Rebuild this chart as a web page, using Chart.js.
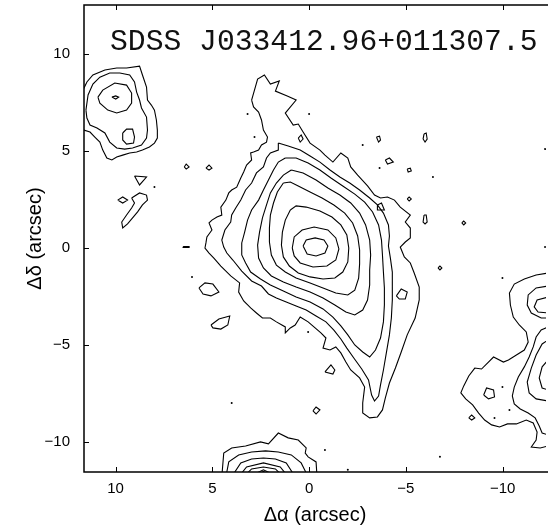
<!DOCTYPE html>
<html>
<head>
<meta charset="utf-8">
<script src="https://cdn.jsdelivr.net/npm/chart.js@4.4.1/dist/chart.umd.min.js"></script>
<style>
  html, body { margin: 0; padding: 0; background: #fff; }
  canvas { display: block; }
</style>
</head>
<body>
<canvas id="map" width="550" height="531"></canvas>
<script>
'use strict';

// object name and axis ticks (arcsec)
var objectName = 'SDSS J033412.96+011307.5';
var xTicks = [10, 5, 0, -5, -10];
var yTicks = [10, 5, 0, -5, -10];

// main galaxy, contours from the outside in: [dRA, dDec] in arcsec
var mainL1 = [[2.97,7.63],[2.66,8.71],[2.31,8.92],[2.00,8.45],[1.54,8.61],[1.74,8.09],[1.13,7.84],[0.67,7.63],[1.23,6.96],[0.82,6.34],
  [0.56,6.39],[0.31,5.98],[-0.05,5.41],[-0.56,5.05],[-0.82,4.79],[-1.23,4.43],[-1.64,4.90],[-2.00,4.64],[-2.15,4.18],[-2.51,3.76],
  [-3.02,3.20],[-3.38,2.73],[-3.69,2.58],[-4.05,2.63],[-4.41,2.47],[-4.71,2.11],[-5.23,1.70],[-4.97,1.34],[-5.23,1.03],[-5.23,0.52],
  [-4.97,0.31],[-4.71,0.05],[-4.92,-0.46],[-5.23,-0.77],[-5.43,-1.29],[-5.69,-2.01],[-5.69,-2.68],[-5.48,-3.61],[-5.07,-4.48],[-4.76,-5.36],
  [-4.46,-6.19],[-4.15,-6.96],[-3.94,-7.73],[-3.79,-8.35],[-3.53,-8.71],[-3.13,-8.76],[-2.77,-8.51],[-2.77,-7.99],[-2.87,-7.17],[-2.61,-6.70],
  [-2.15,-6.29],[-1.90,-5.88],[-1.64,-5.41],[-1.38,-5.10],[-1.08,-5.26],[-0.72,-5.16],[-0.87,-4.64],[-0.61,-4.38],[-0.31,-4.12],[0.05,-3.81],
  [0.46,-3.56],[0.72,-3.97],[0.97,-4.12],[1.23,-4.38],[1.23,-4.07],[1.69,-3.81],[2.00,-3.61],[2.41,-3.61],[2.72,-3.35],[3.02,-3.09],
  [3.38,-2.73],[3.64,-2.27],[3.59,-1.80],[4.05,-1.44],[4.56,-0.93],[4.92,-0.52],[5.17,-0.26],[5.38,0],[5.33,0.26],[5.28,0.57],
  [5.02,0.93],[5.17,1.29],[5.02,1.44],[4.76,1.60],[4.51,1.70],[4.56,2.11],[4.30,2.47],[4.15,2.84],[4.00,2.99],[3.74,3.14],
  [3.53,3.61],[3.38,3.92],[3.23,4.28],[2.97,4.54],[3.02,4.90],[2.87,4.95],[2.61,5.05],[2.46,5.31],[2.20,5.46],[2.15,5.72],
  [2.36,6.08],[2.46,6.60],[2.61,7.01],[2.87,7.27]];
var mainL2 = [[1.59,5.41],[1.59,5.05],[2.00,4.90],[2.20,4.64],[2.36,4.18],[2.72,3.87],[2.97,3.35],[3.28,2.99],[3.53,2.47],[3.79,2.06],
  [4.00,1.70],[4.05,1.34],[4.35,0.93],[4.51,0.41],[4.41,0.05],[4.25,-0.26],[3.94,-0.62],[3.48,-1.19],[2.97,-1.70],[2.46,-1.96],
  [2.10,-2.37],[1.69,-2.58],[1.18,-2.78],[0.67,-2.99],[0.15,-3.20],[-0.36,-3.51],[-0.87,-3.81],[-1.28,-4.23],[-1.64,-4.69],[-1.95,-5.16],
  [-2.31,-5.67],[-2.72,-6.24],[-3.07,-6.80],[-3.23,-7.58],[-3.38,-7.89],[-3.59,-7.63],[-3.69,-7.06],[-3.84,-6.29],[-4.00,-5.36],[-4.15,-4.48],
  [-4.25,-3.61],[-4.30,-2.68],[-4.30,-1.96],[-4.30,-1.24],[-4.20,-0.52],[-4.10,0.10],[-4.15,0.62],[-4.10,1.19],[-3.84,1.80],[-3.53,2.22],
  [-3.13,2.58],[-2.61,2.99],[-2.10,3.35],[-1.59,3.66],[-1.08,4.02],[-0.56,4.43],[-0.05,4.74],[0.46,5.05],[1.08,5.26]];
var mainL3 = [[1.23,4.64],[1.59,4.43],[1.84,4.02],[2.10,3.51],[2.36,2.99],[2.61,2.47],[2.97,1.96],[3.18,1.44],[3.33,0.82],[3.48,0.26],
  [3.48,-0.36],[3.28,-0.77],[3.02,-1.24],[2.51,-1.60],[2.00,-1.91],[1.33,-2.22],[0.67,-2.53],[-0.05,-2.78],[-0.72,-3.14],[-1.23,-3.56],
  [-1.64,-4.02],[-2.00,-4.48],[-2.36,-5.00],[-2.77,-5.36],[-3.13,-5.62],[-3.43,-5.26],[-3.69,-4.64],[-3.84,-3.81],[-3.89,-2.94],[-3.89,-2.06],
  [-3.84,-1.24],[-3.79,-0.36],[-3.74,0.41],[-3.59,1.19],[-3.28,1.86],[-2.87,2.37],[-2.36,2.78],[-1.74,3.20],[-1.13,3.61],[-0.56,4.02],
  [0.05,4.38],[0.67,4.64]];
var mainL4 = [[0.92,4.02],[1.33,3.76],[1.69,3.35],[2.00,2.84],[2.20,2.22],[2.41,1.55],[2.56,0.82],[2.66,0.15],[2.61,-0.52],[2.36,-1.03],
  [1.95,-1.44],[1.33,-1.75],[0.67,-2.01],[-0.05,-2.27],[-0.72,-2.58],[-1.33,-2.94],[-1.90,-3.30],[-2.36,-3.45],[-2.77,-3.20],[-3.02,-2.68],
  [-3.13,-1.91],[-3.13,-1.13],[-3.18,-0.36],[-3.13,0.41],[-2.92,1.19],[-2.61,1.80],[-2.15,2.32],[-1.59,2.73],[-0.97,3.09],[-0.36,3.51],
  [0.31,3.87]];
var mainL5 = [[1.33,3.35],[1.64,2.89],[1.84,2.32],[2.00,1.70],[2.05,1.03],[2.05,0.31],[1.95,-0.36],[1.69,-0.88],[1.23,-1.24],[0.67,-1.55],
  [-0.05,-1.80],[-0.72,-2.06],[-1.38,-2.32],[-2.00,-2.42],[-2.36,-2.17],[-2.56,-1.55],[-2.61,-0.82],[-2.61,-0.10],[-2.51,0.62],[-2.25,1.29],
  [-1.84,1.80],[-1.28,2.22],[-0.67,2.58],[-0.05,2.89],[0.56,3.20],[0.97,3.40]];
var mainL6 = [[0.97,1.96],[1.23,1.44],[1.38,0.82],[1.43,0.15],[1.33,-0.46],[1.02,-0.93],[0.56,-1.29],[-0.05,-1.49],[-0.72,-1.60],[-1.33,-1.55],
  [-1.74,-1.24],[-2.00,-0.72],[-2.05,0],[-1.95,0.67],[-1.64,1.19],[-1.18,1.60],[-0.56,1.91],[0.15,2.11],[0.67,2.17]];
var mainL7 = [[0.87,0],[0.77,0.57],[0.36,0.93],[-0.26,1.08],[-0.97,0.93],[-1.38,0.52],[-1.54,-0.05],[-1.38,-0.62],[-0.92,-0.93],[-0.20,-0.98],
  [0.46,-0.77],[0.77,-0.41]];
var mainL8 = [[0.31,0.10],[0.15,0.41],[-0.31,0.52],[-0.77,0.41],[-0.97,0.10],[-0.82,-0.26],[-0.36,-0.41],[0.10,-0.31]];

// companion at the upper left (cut by the left frame)
var leftL1 = [[11.9,8.10],[11.63,8.25],[11.48,8.56],[11.17,8.92],[10.55,9.18],[9.94,9.28],[9.43,9.28],[8.76,9.38],[8.61,8.92],[8.40,8.30],[8.35,7.63],
  [8.15,7.37],[7.99,7.11],[7.89,6.60],[7.84,6.08],[7.84,5.67],[7.99,5.41],[8.25,5.21],[8.61,5.05],[8.91,4.95],[9.27,4.90],
  [9.63,4.79],[9.94,4.69],[10.19,4.54],[10.45,4.64],[10.66,5.05],[10.81,5.46],[11.07,5.72],[11.32,5.98],[11.63,6.08],[11.9,6.10]];
var leftL2 = [[11.53,7.11],[11.42,7.89],[11.17,8.45],[10.81,8.81],[10.30,9.02],[9.78,9.02],[9.27,8.92],[9.02,8.56],[8.91,8.04],[8.76,7.63],
  [8.66,7.22],[8.40,6.75],[8.35,6.08],[8.40,5.67],[8.66,5.31],[9.12,5.16],[9.53,5.10],[9.94,5.16],[10.30,5.46],[10.55,5.93],
  [10.96,6.19],[11.32,6.34],[11.48,6.70]];
var leftL3 = [[10.91,7.78],[10.66,8.14],[10.04,8.51],[9.43,8.40],[9.17,7.99],[9.17,7.47],[9.43,7.11],[9.94,6.96],[10.40,7.11],[10.81,7.47]];
var leftL4 = [[10.19,7.78],[9.99,7.84],[9.84,7.78],[9.99,7.68]];
var leftL5 = [[9.63,5.93],[9.43,6.13],[9.12,6.13],[9.02,5.72],[9.07,5.41],[9.43,5.36],[9.63,5.57]];

// source at the bottom (cut by the lower frame)
var lowL1 = [[4.51,-11.8],[4.41,-10.57],[4.00,-10.31],[3.28,-10.21],[2.51,-10.00],[2.10,-10.10],[1.59,-9.54],[1.08,-9.79],[0.56,-9.90],[0.15,-10.31],[0.20,-10.57],[0.05,-10.77],[-0.36,-11.03],[-0.41,-11.8]];
var lowL2 = [[4.30,-11.8],[4.15,-11.03],[3.64,-10.67],[2.97,-10.52],[2.25,-10.46],[1.59,-10.52],[0.92,-10.67],[0.41,-11.08],[0.05,-11.8]];
var lowL3 = [[4.00,-11.8],[3.53,-11.08],[2.97,-10.88],[2.36,-10.83],[1.74,-10.88],[1.18,-11.08],[0.72,-11.8]];
var lowL4 = [[3.64,-11.8],[3.23,-11.29],[2.36,-11.08],[1.49,-11.29],[1.08,-11.8]];
var lowL5 = [[3.38,-11.8],[2.97,-11.39],[2.36,-11.29],[1.74,-11.39],[1.33,-11.8]];
var lowL6 = [[3.13,-11.8],[2.36,-11.44],[1.59,-11.8]];
var lowL7 = [[2.82,-11.8],[2.36,-11.52],[1.90,-11.8]];

// source at the right edge (cut by the edge of the picture)
var rightL1 = [[-12.35,-1.29],[-11.73,-1.39],[-11.12,-1.60],[-10.60,-1.86],[-10.35,-2.32],[-10.40,-2.94],[-10.55,-3.56],[-10.86,-3.97],[-11.22,-4.33],[-11.32,-4.85],
  [-11.12,-5.26],[-10.71,-5.52],[-10.30,-5.77],[-10.04,-5.88],[-9.53,-5.62],[-8.91,-6.24],[-8.56,-6.19],[-8.25,-6.60],[-7.99,-7.11],[-7.84,-7.47],
  [-8.09,-7.78],[-8.45,-8.09],[-8.76,-8.51],[-9.07,-8.87],[-9.43,-9.12],[-9.84,-9.23],[-10.25,-9.07],[-10.71,-9.07],[-11.22,-8.87],[-11.58,-9.02],
  [-11.78,-9.49],[-11.73,-9.90],[-11.48,-10.26],[-11.94,-10.31],[-12.35,-10.21]];
var rightL2a = [[-12.35,-1.96],[-11.73,-2.06],[-11.32,-2.42],[-11.27,-2.94],[-11.48,-3.35],[-11.99,-3.61],[-12.35,-3.61]];
var rightL3a = [[-12.35,-2.53],[-11.78,-2.68],[-11.63,-3.04],[-11.83,-3.30],[-12.35,-3.35]];
var rightL2b = [[-12.35,-4.07],[-11.99,-4.23],[-11.73,-4.59],[-11.58,-5.10],[-11.37,-5.62],[-11.12,-6.13],[-10.81,-6.65],[-10.60,-7.17],[-10.50,-7.63],[-10.60,-8.04],
  [-10.91,-8.30],[-11.32,-8.51],[-11.68,-8.76],[-11.89,-9.18],[-12.04,-9.54],[-12.35,-9.64]];
var rightL3b = [[-12.35,-4.74],[-12.04,-4.95],[-11.73,-5.52],[-11.48,-6.19],[-11.27,-6.91],[-11.37,-7.47],[-11.73,-7.78],[-12.35,-7.89]];
var rightL4b = [[-12.35,-5.77],[-12.04,-6.13],[-11.89,-6.70],[-12.04,-7.22],[-12.35,-7.32]];

// small isolated contours
var smallLoops = [
  [[9.02,3.71],[8.40,3.66],[8.76,3.25]],
  [[9.89,2.47],[9.63,2.63],[9.38,2.47],[9.63,2.32]],
  [[9.17,2.58],[8.76,2.84],[8.40,2.73],[8.35,2.47],[8.61,2.22],[8.86,1.86],[9.12,1.55],[9.38,1.24],[9.63,1.03],[9.68,1.34],[9.43,1.70],[9.17,2.06],[9.02,2.32]],
  [[6.45,4.18],[6.35,4.33],[6.20,4.18],[6.35,4.07]],
  [[5.33,4.12],[5.17,4.28],[5.02,4.12],[5.17,4.02]],
  [[6.51,0.07],[6.20,0.07],[6.20,0.03],[6.51,0.03]],
  [[0.56,5.67],[0.41,5.83],[0.31,5.62],[0.46,5.46]],
  [[-3.48,5.72],[-3.64,5.77],[-3.69,5.57],[-3.59,5.46]],
  [[-5.94,5.88],[-6.05,5.93],[-6.10,5.62],[-5.99,5.46],[-5.89,5.62]],
  [[-3.94,4.54],[-4.15,4.64],[-4.35,4.43],[-4.05,4.33]],
  [[-5.07,4.07],[-5.23,4.12],[-5.28,3.97],[-5.12,3.92]],
  [[-5.07,2.53],[-5.17,2.63],[-5.28,2.53],[-5.17,2.42]],
  [[-3.53,2.22],[-3.74,2.32],[-3.89,1.96],[-3.53,1.96]],
  [[-5.94,1.70],[-6.05,1.70],[-6.10,1.34],[-5.99,1.24],[-5.89,1.34]],
  [[-7.89,1.29],[-7.99,1.39],[-8.09,1.29],[-7.99,1.19]],
  [[-6.66,-1.03],[-6.76,-0.93],[-6.86,-1.03],[-6.76,-1.13]],
  [[-4.51,-2.47],[-4.76,-2.11],[-5.07,-2.27],[-4.97,-2.63],[-4.66,-2.63]],
  [[5.69,-2.06],[5.38,-1.80],[4.97,-1.86],[4.66,-2.27],[5.07,-2.47],[5.48,-2.37]],
  [[5.07,-3.97],[4.66,-3.66],[4.10,-3.51],[4.20,-3.97],[4.56,-4.18],[4.97,-4.12]],
  [[-0.82,-6.39],[-1.13,-6.03],[-1.33,-6.29],[-1.23,-6.50]],
  [[-0.20,-8.40],[-0.36,-8.20],[-0.56,-8.35],[-0.36,-8.56]],
  [[-8.25,-8.76],[-8.40,-8.61],[-8.56,-8.76],[-8.40,-8.87]],
  [[-9.02,-7.58],[-9.17,-7.22],[-9.53,-7.32],[-9.58,-7.68],[-9.27,-7.78]]
];

// single-pixel peaks
var specks = [[3.18,6.91],[0,6.91],[2.82,5.72],[-2.77,5.31],[-3.64,4.12],[6.05,-1.49],[0.05,-4.33],[4.00,-7.99],[-0.82,-10.41],
  [-6.76,-10.77],[-9.99,-1.55],[-9.99,-7.17],[-10.35,-8.35],[-9.58,-8.76],[-12.19,5.10],[-12.19,0.05],[-6.40,3.66],[7.99,3.14],[-2.00,-11.44]];

var closedContours = [mainL1, mainL2, mainL3, mainL4, mainL5, mainL6, mainL7, mainL8,
  leftL2, leftL3, leftL4, leftL5].concat(smallLoops);
var openContours = [leftL1, lowL1, lowL2, lowL3, lowL4, lowL5, lowL6, lowL7,
  rightL1, rightL2a, rightL3a, rightL2b, rightL3b, rightL4b];

function contour(points, closed) {
  var pts = points.map(function (p) { return { x: p[0], y: p[1] }; });
  if (closed) pts.push({ x: points[0][0], y: points[0][1] });
  return {
    data: pts,
    showLine: true,
    borderColor: '#000',
    borderWidth: 1.1,
    pointRadius: 0,
    fill: false,
    tension: 0
  };
}

var datasets = [];
closedContours.forEach(function (c) { datasets.push(contour(c, true)); });
openContours.forEach(function (c) { datasets.push(contour(c, false)); });
datasets.push({
  data: specks.map(function (p) { return { x: p[0], y: p[1] }; }),
  showLine: false,
  pointRadius: 1,
  pointBorderWidth: 0,
  pointBackgroundColor: '#000'
});

function minusSign(v) {
  return String(v).replace('-', '\u2212');
}

// keep the frame where the axes say, not where the labels push it
function noLabelPadding(scale) {
  scale.paddingTop = 0;
  scale.paddingBottom = 0;
  scale.paddingLeft = 0;
  scale.paddingRight = 0;
}

var tickFont = { family: '"Liberation Sans", Arial, sans-serif', size: 15 };
var titleFont = { family: '"Liberation Sans", Arial, sans-serif', size: 20 };

// frame, inward tick marks and the object name
var framePlugin = {
  id: 'frame',
  afterDatasetsDraw: function (chart) {
    var ctx = chart.ctx;
    var a = chart.chartArea;
    var sx = chart.scales.x;
    var sy = chart.scales.y;

    ctx.save();
    ctx.strokeStyle = '#000';
    ctx.lineWidth = 1.5;
    ctx.beginPath();
    ctx.moveTo(a.right + 2, a.top);
    ctx.lineTo(a.left, a.top);
    ctx.lineTo(a.left, a.bottom);
    ctx.lineTo(a.right + 2, a.bottom);
    ctx.stroke();

    ctx.lineWidth = 1;
    ctx.beginPath();
    xTicks.forEach(function (v) {
      var p = Math.round(sx.getPixelForValue(v)) + 0.5;
      ctx.moveTo(p, a.bottom);
      ctx.lineTo(p, a.bottom - 5);
      ctx.moveTo(p, a.top);
      ctx.lineTo(p, a.top + 5);
    });
    yTicks.forEach(function (v) {
      var p = Math.round(sy.getPixelForValue(v)) + 0.5;
      ctx.moveTo(a.left, p);
      ctx.lineTo(a.left + 5, p);
    });
    ctx.stroke();

    ctx.fillStyle = '#111';
    ctx.font = '29.7px "Courier New", "Liberation Mono", monospace';
    ctx.textBaseline = 'alphabetic';
    ctx.textAlign = 'left';
    ctx.fillText(objectName, a.left + 26, a.top + 45);
    ctx.restore();
  }
};

new Chart(document.getElementById('map'), {
  type: 'scatter',
  data: { datasets: datasets },
  options: {
    responsive: false,
    animation: false,
    layout: { padding: { top: 5, right: 0, bottom: 0, left: 0 } },
    plugins: {
      legend: { display: false },
      tooltip: { enabled: false }
    },
    scales: {
      x: {
        type: 'linear',
        reverse: true,
        min: -12.24,
        max: 11.63,
        afterBuildTicks: function (scale) {
          scale.ticks = xTicks.map(function (v) { return { value: v }; });
        },
        afterFit: function (scale) { scale.height = 59; noLabelPadding(scale); },
        grid: { display: false, drawTicks: false },
        border: { display: false },
        ticks: { callback: minusSign, color: '#000', font: tickFont, padding: 8, maxRotation: 0, autoSkip: false },
        title: { display: true, text: '\u0394\u03b1 (arcsec)', color: '#000', font: titleFont, padding: { top: 0, bottom: 4 } }
      },
      y: {
        type: 'linear',
        min: -11.55,
        max: 12.53,
        afterBuildTicks: function (scale) {
          scale.ticks = yTicks.map(function (v) { return { value: v }; });
        },
        afterFit: function (scale) { scale.width = 84; noLabelPadding(scale); },
        grid: { display: false, drawTicks: false },
        border: { display: false },
        ticks: { callback: minusSign, color: '#000', font: tickFont, padding: 14, autoSkip: false },
        title: { display: true, text: '\u0394\u03b4 (arcsec)', color: '#000', font: titleFont, padding: { top: 23, bottom: 0 } }
      }
    }
  },
  plugins: [framePlugin]
});
</script>
</body>
</html>
